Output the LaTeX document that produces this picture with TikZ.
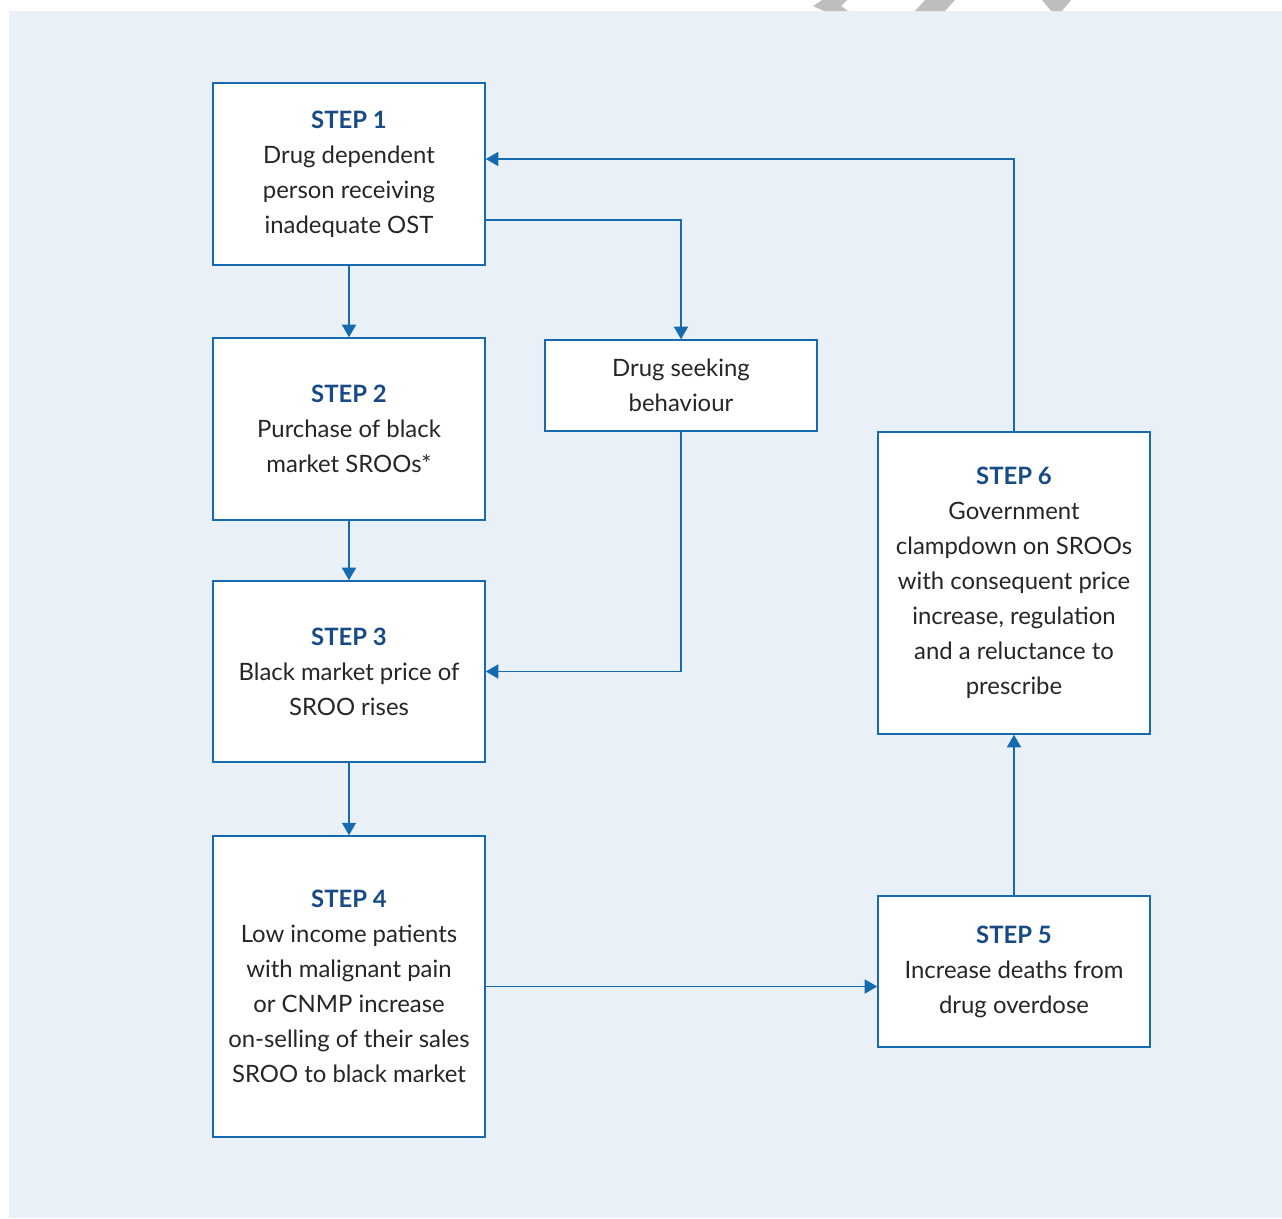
\documentclass[tikz,border=0pt]{standalone}
\usepackage{fontspec}
\setmainfont{Lato}
\usetikzlibrary{arrows.meta}
\definecolor{panelblue}{RGB}{233,240,248}
\definecolor{lineblue}{RGB}{22,106,176}
\definecolor{stepblue}{RGB}{24,74,134}
\definecolor{markgray}{RGB}{190,190,190}
\tikzset{
  stepbox/.style={draw=lineblue, line width=0.9pt, fill=white, align=center,
    minimum width=5.44cm, inner sep=0pt, text=black!85,
    font=\fontsize{13.6}{19.9}\selectfont},
  flow/.style={lineblue, line width=0.9pt, -{Triangle[length=0.25cm,width=0.28cm]}},
}
\newcommand{\steplabel}[1]{{\bfseries\color{stepblue}STEP #1}}
\begin{document}
\begin{tikzpicture}[x=0.02cm,y=-0.02cm]
\useasboundingbox[fill=white] (0,0) rectangle (1282,1218);
\fill[panelblue] (9,11) rectangle (1282,1218);
% marks at the top edge
\fill[markgray] (822,0) -- (847,0) -- (841,6) -- (848,11) -- (824,11) -- (813,6) -- cycle;
\fill[markgray] (925,0) -- (955,0) -- (945,11) -- (915,11) -- cycle;
\fill[markgray] (1042,0) -- (1071,0) -- (1062,11) -- (1051,11) -- cycle;

% boxes
\node[stepbox, minimum height=3.64cm] (step1) at (349,174)
  {\steplabel{1}\\Drug dependent\\person receiving\\inadequate OST};
\node[stepbox, minimum height=3.64cm] (step2) at (349,429)
  {\steplabel{2}\\Purchase of black\\market SROOs*};
\node[stepbox, minimum height=3.62cm] (step3) at (349,671.5)
  {\steplabel{3}\\Black market price of\\SROO rises};
\node[stepbox, minimum height=6.02cm] (step4) at (349,986.5)
  {\steplabel{4}\\Low income patients\\with malignant pain\\or CNMP increase\\on-selling of their sales\\SROO to black market};
\node[stepbox, minimum height=1.82cm] (seek) at (681,385.5)
  {Drug seeking\\behaviour};
\node[stepbox, minimum height=6.04cm] (step6) at (1014,583)
  {\steplabel{6}\\Government\\clampdown on SROOs\\with consequent price\\increase, regulation\\and a reluctance to\\prescribe};
\node[stepbox, minimum height=3.02cm] (step5) at (1014,971.5)
  {\steplabel{5}\\Increase deaths from\\drug overdose};

% connectors
\draw[flow] (step1) -- (step2);
\draw[flow] (step2) -- (step3);
\draw[flow] (step3) -- (step4);
\draw[flow] ([yshift=-0.92cm]step1.east) -| (seek.north);
\draw[flow] (seek.south) |- (step3.east);
\draw[flow] (step4.east) -- (step4.east -| step5.west);
\draw[flow] (step5) -- (step6);
\draw[flow] (step6.north) |- ([yshift=0.3cm]step1.east);
\end{tikzpicture}
\end{document}
